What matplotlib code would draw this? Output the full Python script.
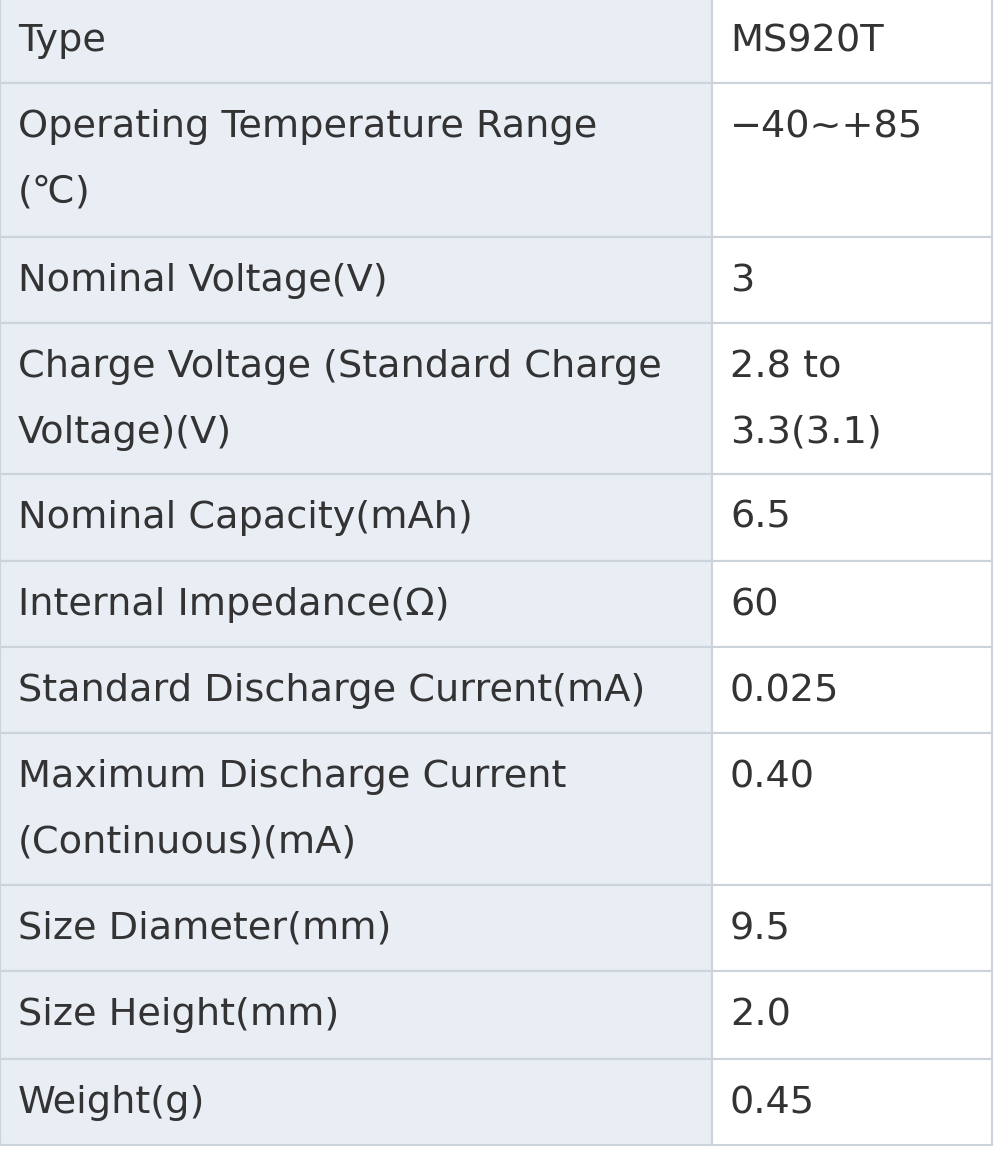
import matplotlib.pyplot as plt
from matplotlib.patches import Rectangle

plt.rcParams['font.family'] = ['DejaVu Sans']

LABELS = [
    ["Type"],
    ["Operating Temperature Range", "(℃)"],
    ["Nominal Voltage(V)"],
    ["Charge Voltage (Standard Charge", "Voltage)(V)"],
    ["Nominal Capacity(mAh)"],
    ["Internal Impedance(Ω)"],
    ["Standard Discharge Current(mA)"],
    ["Maximum Discharge Current", "(Continuous)(mA)"],
    ["Size Diameter(mm)"],
    ["Size Height(mm)"],
    ["Weight(g)"],
]
VALUES = [
    ["MS920T"],
    ["−40~+85"],
    ["3"],
    ["2.8 to", "3.3(3.1)"],
    ["6.5"],
    ["60"],
    ["0.025"],
    ["0.40"],
    ["9.5"],
    ["2.0"],
    ["0.45"],
]
ROW_EDGES = [-3, 83, 237, 323, 474, 561, 647, 733, 885, 971, 1059, 1145]

W, H = 1000, 1160
SPLIT, RIGHT = 712, 992
BORDER = "#cdd3db"
LEFT_BG = "#e9eef5"
TEXT = "#333333"

fig = plt.figure(figsize=(W / 100, H / 100), dpi=100)
ax = fig.add_axes([0, 0, 1, 1])
ax.set_xlim(0, W)
ax.set_ylim(H, 0)
ax.axis("off")

for i, (lab, val) in enumerate(zip(LABELS, VALUES)):
    top, bot = ROW_EDGES[i], ROW_EDGES[i + 1]
    ax.add_patch(Rectangle((0, top), SPLIT, bot - top, facecolor=LEFT_BG, edgecolor=BORDER, lw=1.5))
    ax.add_patch(Rectangle((SPLIT, top), RIGHT - SPLIT, bot - top, facecolor="white", edgecolor=BORDER, lw=1.5))
    for j, line in enumerate(lab):
        ax.text(18, top + 44 + 66 * j, line, fontsize=27.5, color=TEXT, va="center", ha="left")
    for j, line in enumerate(val):
        ax.text(730, top + 44 + 66 * j, line, fontsize=27.5, color=TEXT, va="center", ha="left")

fig.savefig("out.png", dpi=100, facecolor="white")
